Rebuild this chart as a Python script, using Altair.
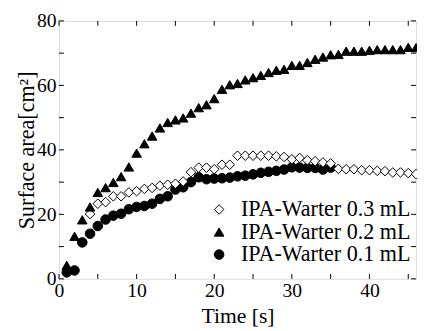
import altair as alt
import pandas as pd

# ---- data ----
series_names = ["IPA-Warter 0.3 mL", "IPA-Warter 0.2 mL", "IPA-Warter 0.1 mL"]

t_03 = list(range(4, 47))
v_03 = [20.1, 23.3, 23.8, 25.6, 25.6, 26.8, 27.2, 27.9, 28.2, 28.9, 29.2, 29.5,
        30.2, 33.1, 34.5, 34.5, 34.0, 35.4, 35.4, 38.2, 38.2, 38.2, 38.2, 38.2,
        38.0, 37.8, 37.1, 37.5, 36.8, 36.5, 36.1, 35.8, 34.1, 34.0, 34.0, 33.7,
        33.7, 33.5, 33.4, 33.0, 33.0, 32.8, 32.5]

t_02 = list(range(1, 47))
v_02 = [4.2, 13.2, 18.3, 22.3, 26.8, 28.3, 29.9, 31.7, 34.7, 39.0, 41.9, 44.3,
        46.8, 48.5, 49.3, 49.9, 51.4, 53.1, 54.0, 55.9, 58.8, 60.2, 60.6, 61.7,
        62.4, 63.1, 64.0, 64.7, 65.0, 66.2, 66.2, 67.1, 68.1, 68.8, 69.5, 69.6,
        70.6, 70.6, 70.6, 70.9, 71.1, 71.1, 71.1, 71.1, 71.8, 71.7]

t_01 = list(range(1, 36))
v_01 = [2.0, 2.6, 11.3, 14.0, 16.4, 18.4, 19.6, 20.2, 21.6, 22.3, 22.6, 23.3,
        24.8, 25.6, 27.7, 28.4, 30.0, 31.5, 30.9, 31.1, 31.2, 31.4, 31.8, 32.0,
        32.4, 32.9, 33.2, 33.5, 33.9, 34.6, 34.5, 34.4, 34.4, 33.9, 34.5]

x_ticks = [0, 5, 10, 15, 20, 25, 30, 35, 40, 45]
x_labels = [0, 10, 20, 30, 40]
y_ticks = [0, 10, 20, 30, 40, 50, 60, 70, 80]
y_labels = [0, 20, 40, 60, 80]

# drawing order: 0.1 first, then 0.3, then 0.2
rows = []
for t, v in zip(t_01, v_01):
    rows.append({"t": t, "v": v, "series": series_names[2]})
for t, v in zip(t_03, v_03):
    rows.append({"t": t, "v": v, "series": series_names[0]})
for t, v in zip(t_02, v_02):
    rows.append({"t": t, "v": v, "series": series_names[1]})
df = pd.DataFrame(rows)

W, H = 364, 263
FONT = "Liberation Serif"
XT = "Time [s]"
YT = "Surface area[cm²]"

xscale = alt.Scale(domain=[0, 46], nice=False, zero=False)
yscale = alt.Scale(domain=[0, 80], nice=False)

leg = alt.Legend(orient="none", legendX=152, legendY=181, padding=0, title=None,
                 labelFont=FONT, labelFontSize=22.5, labelColor="black", labelOffset=11,
                 symbolSize=95, symbolStrokeColor="black", symbolStrokeWidth=1,
                 symbolOpacity=1, rowPadding=0, labelLimit=300)

points = alt.Chart(df).mark_point(filled=True, strokeWidth=1, opacity=1).encode(
    x=alt.X("t:Q", scale=xscale, title=XT,
            axis=alt.Axis(values=x_labels, ticks=False, domain=False, grid=False,
                          labelFont=FONT, labelFontSize=20, labelColor="black",
                          labelPadding=2, titleFont=FONT, titleFontSize=22,
                          titleFontWeight="normal", titleColor="black", titlePadding=6,
                          labelFlush=False)),
    y=alt.Y("v:Q", scale=yscale, title=YT,
            axis=alt.Axis(values=y_labels, ticks=False, domain=False, grid=False,
                          labelFont=FONT, labelFontSize=20, labelColor="black",
                          labelPadding=3, titleFont=FONT, titleFontSize=22.5,
                          titleFontWeight="normal", titleColor="black", titlePadding=-2,
                          labelFlush=False)),
    shape=alt.Shape("series:N", scale=alt.Scale(domain=series_names,
                                                range=["diamond", "triangle-up", "circle"]),
                    legend=leg),
    fill=alt.Fill("series:N", scale=alt.Scale(domain=series_names,
                                              range=["white", "black", "black"]),
                  legend=leg),
    stroke=alt.Stroke("series:N", scale=alt.Scale(domain=series_names,
                                                  range=["black", "black", "black"]),
                      legend=leg),
    size=alt.value(95),
)

xt_df = pd.DataFrame({"xt": x_ticks})
yt_df = pd.DataFrame({"yt": y_ticks})

tick_bottom = alt.Chart(xt_df).mark_rule(color="black", strokeWidth=1).encode(
    x=alt.X("xt:Q", scale=xscale, title=XT), y=alt.value(H), y2=alt.value(H - 5))
tick_top = alt.Chart(xt_df).mark_rule(color="black", strokeWidth=1).encode(
    x=alt.X("xt:Q", scale=xscale, title=XT), y=alt.value(0), y2=alt.value(5))
tick_left = alt.Chart(yt_df).mark_rule(color="black", strokeWidth=1).encode(
    y=alt.Y("yt:Q", scale=yscale, title=YT), x=alt.value(0), x2=alt.value(5))
tick_right = alt.Chart(yt_df).mark_rule(color="black", strokeWidth=1).encode(
    y=alt.Y("yt:Q", scale=yscale, title=YT), x=alt.value(W), x2=alt.value(W - 5))

chart = alt.layer(tick_bottom, tick_top, tick_left, tick_right, points).properties(
    width=W, height=H,
    autosize=alt.AutoSizeParams(type="none"),
    padding={"left": 52, "top": 10, "right": 1, "bottom": 50},
).configure_view(
    stroke="black", strokeWidth=1
).configure(background="white")

chart.save("out.html", embed_options={"renderer": "svg", "actions": False})
